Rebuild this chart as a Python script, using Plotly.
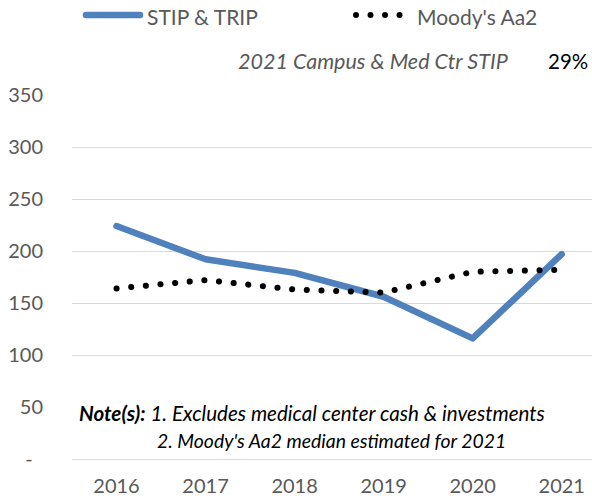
import plotly.graph_objects as go

years = ["2016", "2017", "2018", "2019", "2020", "2021"]
stip_trip = [224, 192, 179, 156, 116, 197]
moodys_aa2 = [164, 172, 163, 160, 180, 182]
y_tick_vals = [0, 50, 100, 150, 200, 250, 300, 350]
y_tick_text = ["-\u00a0\u00a0", "50", "100", "150", "200", "250", "300", "350"]

W, H = 592, 498
L, R, T, B = 72, 0, 95, 39
PW, PH = W - L - R, H - T - B

def px(x):
    return (x - L) / PW

def py(y):
    return (H - B - y) / PH

FONT = "Lato, 'Open Sans', sans-serif"
GRAY = "#595959"
BLUE = "#4F81BD"

fig = go.Figure()
fig.add_trace(go.Scatter(x=years, y=stip_trip, mode="lines", name="STIP & TRIP",
                         line=dict(color=BLUE, width=6.5), showlegend=False, hoverinfo="skip"))
fig.add_trace(go.Scatter(x=years, y=moodys_aa2, mode="lines", name="Moody's Aa2",
                         line=dict(color="black", width=6, dash="5px,9.6px"), showlegend=False,
                         hoverinfo="skip"))

shapes = []
# white box behind the notes (hides the 50 gridline, not the tick label)
shapes.append(dict(type="rect", xref="paper", yref="paper", x0=px(62), x1=px(W),
                   y0=py(452), y1=py(394), fillcolor="white", line=dict(width=0), layer="above"))
# legend samples
shapes.append(dict(type="line", xref="paper", yref="paper", x0=px(86), x1=px(140),
                   y0=py(15), y1=py(15), line=dict(color=BLUE, width=6.5)))
for cx in [356, 370.5, 385, 399.5]:
    shapes.append(dict(type="circle", xref="paper", yref="paper", xsizemode="pixel", ysizemode="pixel",
                       xanchor=px(cx), yanchor=py(15), x0=-3, x1=3, y0=-3, y1=3,
                       fillcolor="black", line=dict(width=0)))

ann = []
ann.append(dict(xref="paper", yref="paper", x=px(145), y=py(16), xanchor="left", yanchor="middle",
                text="STIP & TRIP", showarrow=False, font=dict(family=FONT, size=21, color=GRAY)))
ann.append(dict(xref="paper", yref="paper", x=px(415), y=py(16), xanchor="left", yanchor="middle",
                text="Moody's Aa2", showarrow=False, font=dict(family=FONT, size=21, color=GRAY)))
ann.append(dict(xref="paper", yref="paper", x=px(510), y=py(61), xanchor="right", yanchor="middle",
                text="<i>2021 Campus & Med Ctr STIP</i>", showarrow=False,
                font=dict(family=FONT, size=21.5, color=GRAY)))
ann.append(dict(xref="paper", yref="paper", x=px(590), y=py(61), xanchor="right", yanchor="middle",
                text="29%", showarrow=False, font=dict(family=FONT, size=20.5, color="black")))
ann.append(dict(xref="paper", yref="paper", x=px(77), y=py(413), xanchor="left", yanchor="middle",
                text="<b><i>Note(s):</i></b><i> 1. Excludes medical center cash & investments</i>",
                showarrow=False, font=dict(family=FONT, size=20.6, color="black")))
ann.append(dict(xref="paper", yref="paper", x=px(155), y=py(440), xanchor="left", yanchor="middle",
                text="<i>2. Moody's Aa2 median estimated for 2021</i>",
                showarrow=False, font=dict(family=FONT, size=19.4, color="black")))

fig.update_layout(
    width=W, height=H,
    margin=dict(l=L, r=R, t=T, b=B, pad=0),
    paper_bgcolor="white", plot_bgcolor="white",
    font=dict(family=FONT, size=20, color=GRAY),
    shapes=shapes, annotations=ann,
    hovermode=False,
    xaxis=dict(type="category", range=[-0.5, 5.34], showgrid=False, zeroline=False,
               showline=False, ticks="", ticklabelstandoff=13,
               tickfont=dict(family=FONT, size=20, color=GRAY)),
    yaxis=dict(range=[0, 350], tickvals=y_tick_vals, ticktext=y_tick_text,
               showgrid=True, gridcolor="#D9D9D9", gridwidth=1,
               zeroline=True, zerolinecolor="#D9D9D9", zerolinewidth=1,
               showline=False, ticks="", ticklabelstandoff=28,
               tickfont=dict(family=FONT, size=20, color=GRAY)),
)

post = """
document.body.style.margin = '0';
document.body.style.padding = '0';
var gd = document.getElementsByClassName('plotly-graph-div')[0];
function fixCaps(){
  var lines = document.querySelectorAll('.scatterlayer .trace path.js-line');
  lines.forEach(function(p, i){
    p.style.strokeLinecap = 'round';
    p.style.strokeLinejoin = 'round';
    if (i === 1) { p.style.strokeDasharray = '0.1px,14.6px'; }
  });
  document.querySelectorAll('.shapelayer path').forEach(function(p){ p.style.strokeLinecap = 'round'; });
}
fixCaps();
if (gd && gd.on) { gd.on('plotly_afterplot', fixCaps); }
"""

fig.write_html("out.html", post_script=post, config={"displayModeBar": False, "staticPlot": True})
